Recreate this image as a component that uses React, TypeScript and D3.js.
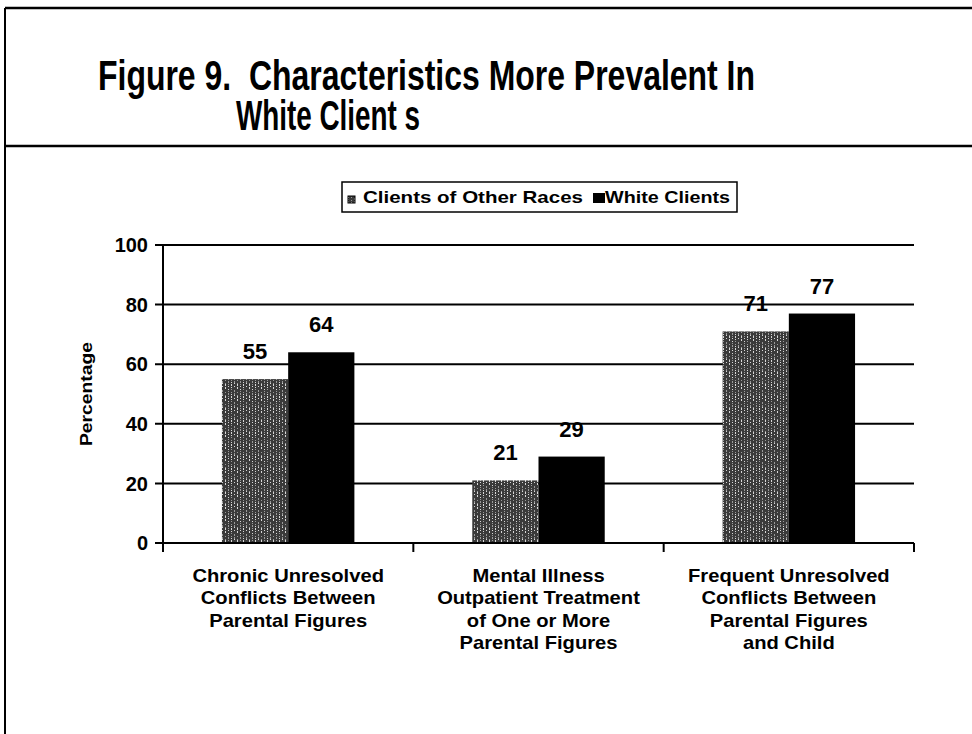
import React from "react";
import * as d3 from "d3";

const categories = [
  ["Chronic Unresolved", "Conflicts Between", "Parental Figures"],
  ["Mental Illness", "Outpatient Treatment", "of One or More", "Parental Figures"],
  ["Frequent Unresolved", "Conflicts Between", "Parental Figures", "and Child"],
];
const seriesNames = ["Clients of Other Races", "White Clients"];
const otherRaces = [55, 21, 71];
const whiteClients = [64, 29, 77];
const yTicks = [0, 20, 40, 60, 80, 100];
const titleLines = ["Figure 9.  Characteristics More Prevalent In", "White Client s"];

const W = 972;
const H = 734;
const plot = { left: 163, right: 914, top: 245, bottom: 543 };

export default function App() {
  const y = d3.scaleLinear().domain([0, 100]).range([plot.bottom, plot.top]);
  const x0 = d3
    .scaleBand<number>()
    .domain(d3.range(categories.length))
    .range([plot.left, plot.right])
    .paddingInner(0)
    .paddingOuter(0);
  const x1 = d3
    .scaleBand<number>()
    .domain([0, 1])
    .range([0, x0.bandwidth()])
    .paddingInner(0)
    .paddingOuter(0.89);
  const series = [otherRaces, whiteClients];
  const fills = ["url(#stipple)", "#000"];
  const sans = "'Liberation Sans', Arial, sans-serif";

  const specks: [number, number][] = [];
  for (let i = 0; i < 24; i++) {
    specks.push([(i * 7 + (i % 3) * 5) % 12, (i * 5 + Math.floor(i / 4) * 3) % 12]);
  }

  return (
    <div style={{ position: "absolute", left: 0, top: 0 }}>
      <svg width={W} height={H} style={{ display: "block", background: "#fff" }}>
        <defs>
          <pattern id="stipple" width={12} height={12} patternUnits="userSpaceOnUse">
            <rect width={12} height={12} fill="#3a3a3a" />
            {specks.map(([sx, sy], i) => (
              <rect key={i} x={sx} y={sy} width={1} height={1} fill={i % 2 ? "#d8d8d8" : "#9a9a9a"} />
            ))}
          </pattern>
        </defs>

        {/* frame */}
        <line x1={5} x2={W} y1={8} y2={8} stroke="#000" strokeWidth={2.5} />
        <line x1={5} x2={W} y1={146} y2={146} stroke="#000" strokeWidth={2.5} />
        <line x1={5} x2={5} y1={8} y2={H} stroke="#000" strokeWidth={2} />

        {/* title */}
        <text
          x={98}
          y={90}
          fontFamily={sans}
          fontWeight="bold"
          fontSize={42}
          fill="#000"
          textLength={657}
          lengthAdjust="spacingAndGlyphs"
          style={{ whiteSpace: "pre" }}
        >
          {titleLines[0]}
        </text>
        <text
          x={236}
          y={130}
          fontFamily={sans}
          fontWeight="bold"
          fontSize={42}
          fill="#000"
          textLength={184}
          lengthAdjust="spacingAndGlyphs"
          style={{ whiteSpace: "pre" }}
        >
          {titleLines[1]}
        </text>

        {/* legend */}
        <rect x={342} y={182} width={395} height={30} fill="#fff" stroke="#000" strokeWidth={1.5} />
        <rect x={348} y={196} width={7} height={7} fill="url(#stipple)" stroke="#000" strokeWidth={1} />
        <text
          x={363}
          y={203}
          fontFamily={sans}
          fontWeight="bold"
          fontSize={17}
          fill="#000"
          textLength={220}
          lengthAdjust="spacingAndGlyphs"
        >
          {seriesNames[0]}
        </text>
        <rect x={593} y={193} width={12} height={10} fill="#000" />
        <text
          x={605}
          y={203}
          fontFamily={sans}
          fontWeight="bold"
          fontSize={17}
          fill="#000"
          textLength={125}
          lengthAdjust="spacingAndGlyphs"
        >
          {seriesNames[1]}
        </text>

        {/* gridlines & y ticks */}
        {yTicks.map((t) => (
          <g key={t}>
            <line x1={155} x2={plot.right} y1={y(t)} y2={y(t)} stroke="#000" strokeWidth={2} />
            <text
              x={148}
              y={y(t)}
              dy="0.36em"
              textAnchor="end"
              fontFamily={sans}
              fontWeight="bold"
              fontSize={20}
              fill="#000"
            >
              {t}
            </text>
          </g>
        ))}

        {/* bars */}
        {series.map((vals, s) =>
          vals.map((v, i) => {
            const bx = (x0(i) ?? 0) + (x1(s) ?? 0);
            return (
              <rect
                key={`${s}-${i}`}
                x={bx}
                y={y(v)}
                width={x1.bandwidth()}
                height={y(0) - y(v)}
                fill={fills[s]}
              />
            );
          })
        )}

        {/* value labels */}
        {series.map((vals, s) =>
          vals.map((v, i) => {
            const bx = (x0(i) ?? 0) + (x1(s) ?? 0) + x1.bandwidth() / 2;
            return (
              <text
                key={`l${s}-${i}`}
                x={bx}
                y={y(v) - 20}
                textAnchor="middle"
                fontFamily={sans}
                fontWeight="bold"
                fontSize={22}
                fill="#000"
              >
                {v}
              </text>
            );
          })
        )}

        {/* axes */}
        <line x1={plot.left} x2={plot.left} y1={plot.top} y2={plot.bottom + 9} stroke="#000" strokeWidth={2} />
        <line x1={plot.left} x2={plot.right} y1={plot.bottom} y2={plot.bottom} stroke="#000" strokeWidth={2} />
        {d3.range(categories.length + 1).map((k) => {
          const tx = plot.left + k * x0.bandwidth();
          return <line key={k} x1={tx} x2={tx} y1={plot.bottom} y2={plot.bottom + 9} stroke="#000" strokeWidth={2} />;
        })}

        {/* category labels */}
        {categories.map((lines, i) => {
          const cx = (x0(i) ?? 0) + x0.bandwidth() / 2;
          return (
            <g key={i} transform={`translate(${cx}, 582) scale(1.12, 1)`}>
              <text textAnchor="middle" fontFamily={sans} fontWeight="bold" fontSize={18} fill="#000">
                {lines.map((ln, j) => (
                  <tspan key={j} x={0} y={j * 22.5}>
                    {ln}
                  </tspan>
                ))}
              </text>
            </g>
          );
        })}

        {/* y axis title */}
        <text
          transform={`translate(92, ${(plot.top + plot.bottom) / 2}) rotate(-90)`}
          textAnchor="middle"
          fontFamily={sans}
          fontWeight="bold"
          fontSize={16}
          fill="#000"
          textLength={104}
          lengthAdjust="spacingAndGlyphs"
        >
          Percentage
        </text>
      </svg>
    </div>
  );
}
